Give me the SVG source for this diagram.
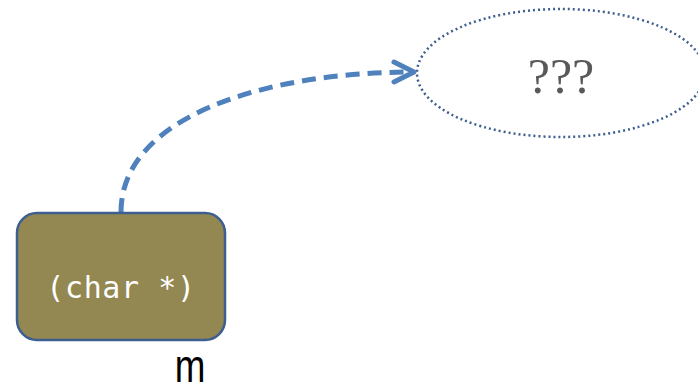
<svg xmlns="http://www.w3.org/2000/svg" width="698" height="386" viewBox="0 0 698 386">
<style>
.conn{fill:none;stroke:#4f81bd;stroke-width:5;}
</style>
<defs>
<marker id="arr" markerUnits="userSpaceOnUse" markerWidth="30" markerHeight="30" refX="24" refY="12" orient="auto" viewBox="0 0 30 24">
<path d="M4,2 L24,12 L4,22" fill="none" stroke="#4f81bd" stroke-width="5" stroke-linecap="round" stroke-linejoin="round"/>
</marker>
</defs>
<rect width="698" height="386" fill="#fff"/>
<g id="target">
<ellipse cx="561" cy="73" rx="144" ry="64" fill="none" stroke="#3d5f8f" stroke-width="2.5" stroke-dasharray="2 3"/>
<text x="561" y="93" text-anchor="middle" font-family="Liberation Serif, serif" font-size="50" fill="#595959">???</text>
</g>
<g id="connectors">
<path class="conn" d="M121,212 C121,118 262,72 414,72" stroke-dasharray="14 8" marker-end="url(#arr)"/>
</g>
<g id="m">
<rect x="17" y="213" width="208" height="127" rx="20" fill="#938752" stroke="#3d5f8f" stroke-width="2.5"/>
<text x="121" y="298" text-anchor="middle" font-family="DejaVu Sans Mono, monospace" font-size="30" letter-spacing="0.6" fill="#fff">(char *)</text>
<text transform="translate(190,382) scale(0.8,1)" text-anchor="middle" font-family="Liberation Sans, sans-serif" font-size="46" fill="#000">m</text>
</g>
</svg>
